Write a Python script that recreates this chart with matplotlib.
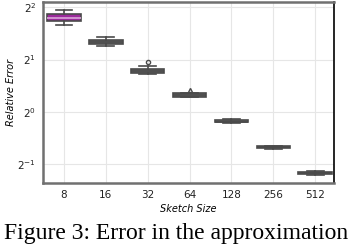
import matplotlib
matplotlib.use("Agg")
import matplotlib.pyplot as plt

sizes = ["8", "16", "32", "64", "128", "256", "512"]
medians = [3.47, 2.52, 1.725, 1.25, 0.88, 0.624, 0.445]
q1s = [3.33, 2.45, 1.68, 1.225, 0.87, 0.617, 0.44]
q3s = [3.65, 2.59, 1.77, 1.28, 0.895, 0.632, 0.452]
whislo = [3.15, 2.40, 1.65, 1.21, 0.86, 0.612, 0.436]
whishi = [3.85, 2.70, 1.835, 1.29, 0.905, 0.637, 0.456]
fliers = [[], [], [1.94], [1.34], [], [], []]

stats = []
for i, s in enumerate(sizes):
    stats.append(dict(med=medians[i], q1=q1s[i], q3=q3s[i],
                      whislo=whislo[i], whishi=whishi[i],
                      fliers=fliers[i], label=s))

fig = plt.figure(figsize=(3.52, 2.44), dpi=100)
ax = fig.add_axes([43/352, 1-183/244, 291/352, 181/244])
ax.set_yscale("log", base=2)

bp = ax.bxp(stats, positions=range(len(sizes)), widths=0.8, patch_artist=True,
            boxprops=dict(edgecolor="#4a4a4a", linewidth=1.2),
            whiskerprops=dict(color="#4a4a4a", linewidth=1.2),
            capprops=dict(color="#4a4a4a", linewidth=1.2),
            medianprops=dict(color="#4a4a4a", linewidth=1.2),
            flierprops=dict(marker="o", markersize=3, markerfacecolor="none",
                            markeredgecolor="#4a4a4a"))
for i, b in enumerate(bp["boxes"]):
    b.set_facecolor("#9b2a9b" if i == 0 else "#6e6e6e")
bp["medians"][0].set_color("#d9a6d9")
bp["fliers"][3].set_marker("^")

ax.set_xlim(-0.5, 6.45)
ax.set_ylim(2**-1.36, 2**2.1)
ax.set_yticks([0.5, 1, 2, 4])
ax.set_yticklabels([r"$2^{-1}$", r"$2^{0}$", r"$2^{1}$", r"$2^{2}$"])
ax.minorticks_off()
ax.tick_params(length=0, labelsize=7.5, colors="#222222", pad=5)
ax.grid(True, color="#e6e6e6", linewidth=0.8)
ax.set_axisbelow(True)
for side in ["left", "bottom", "top"]:
    ax.spines[side].set_color("#707070")
    ax.spines[side].set_linewidth(1.8)
ax.spines["right"].set_color("black")
ax.spines["right"].set_linewidth(1.2)

ax.set_xlabel("Sketch Size", fontsize=7, style="italic", labelpad=3)
ax.set_ylabel("Relative Error", fontsize=7, style="italic", labelpad=1)

fig.text(0.5, 1-239/244, "Figure 3: Error in the approximation",
         family="Liberation Serif", fontsize=17, ha="center", va="baseline")

fig.savefig("out.png", dpi=100)
